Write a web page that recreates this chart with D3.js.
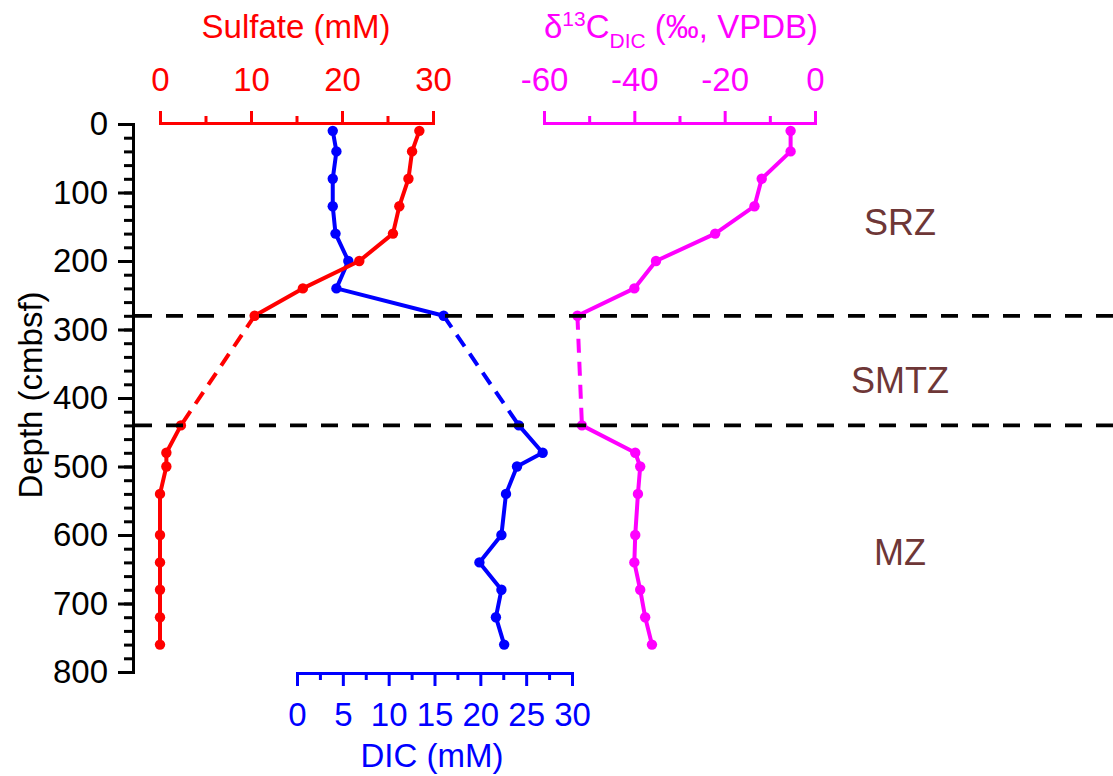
<!DOCTYPE html>
<html>
<head>
<meta charset="utf-8">
<script src="https://cdn.jsdelivr.net/npm/d3@7"></script>
<style>
  html, body { margin: 0; padding: 0; background: #fff; }
  svg text { font-family: "Liberation Sans", Arial, sans-serif; }
</style>
</head>
<body>
<svg id="chart" width="1113" height="776"></svg>
<script>
// ---- data ----
const depths   = [10, 40, 80, 120, 160, 200, 240, 280, 440, 480, 500, 540, 600, 640, 680, 720, 760];
const sulfate  = [28.5, 27.7, 27.3, 26.3, 25.6, 21.9, 15.7, 10.4, 2.3, 0.7, 0.7, 0, 0, 0, 0, 0, 0];
const dic      = [3.9, 4.3, 3.9, 3.9, 4.2, 5.6, 4.3, 16.0, 24.2, 26.8, 24.0, 22.8, 22.3, 19.9, 22.3, 21.7, 22.6];
const d13c     = [-5.4, -5.4, -11.8, -13.4, -22.1, -35.2, -40.0, -52.6, -51.6, -39.8, -38.7, -39.2, -39.8, -40.0, -38.7, -37.6, -36.1];
const zoneBounds = [280, 440];
const zoneLabels = ["SRZ", "SMTZ", "MZ"];
const zoneDepths = [143, 374, 625];
const depthTicks = [0, 100, 200, 300, 400, 500, 600, 700, 800];
const sulfateTicks = [0, 10, 20, 30];
const dicTicks = [0, 5, 10, 15, 20, 25, 30];
const d13cTicks = [-60, -40, -20, 0];

const svg = d3.select("#chart");

const y = d3.scaleLinear().domain([0, 800]).range([124, 672]);
const xS = d3.scaleLinear().domain([0, 30]).range([160, 433]);
const xD = d3.scaleLinear().domain([0, 30]).range([297, 572]);
const xC = d3.scaleLinear().domain([-60, 0]).range([544, 815]);

const FS = 33;

function styleAxis(g, color) {
  g.selectAll("path, line").attr("stroke", color).attr("stroke-width", 3);
  g.select(".domain").attr("stroke-linecap", "square");
  g.selectAll("text").attr("fill", color).style("font-size", FS + "px")
    .style("font-family", '"Liberation Sans", Arial, sans-serif');
}

// ---- left depth axis ----
const gy = svg.append("g").attr("transform", "translate(133,0)");
gy.call(d3.axisLeft(y).tickValues(d3.range(0, 801, 20)).tickSize(9).tickSizeOuter(0).tickFormat(""));
gy.call(g => styleAxis(g, "#000"));
const gy2 = svg.append("g").attr("transform", "translate(133,0)");
gy2.call(d3.axisLeft(y).tickValues(depthTicks).tickSize(15).tickSizeOuter(0).tickPadding(10));
styleAxis(gy2, "#000");
gy2.select(".domain").remove();

svg.append("text").attr("transform", "translate(42,395) rotate(-90)")
  .attr("text-anchor", "middle").style("font-size", FS + "px").attr("fill", "#000")
  .text("Depth (cmbsf)");

// ---- top sulfate axis ----
const gs = svg.append("g").attr("transform", "translate(0,123)");
gs.call(d3.axisTop(xS).tickValues([5, 15, 25]).tickSize(7).tickSizeOuter(0).tickFormat(""));
styleAxis(gs, "#ff0000");
const gs2 = svg.append("g").attr("transform", "translate(0,123)");
gs2.call(d3.axisTop(xS).tickValues(sulfateTicks).tickSize(12).tickSizeOuter(0).tickPadding(20));
styleAxis(gs2, "#ff0000");
gs2.select(".domain").remove();
svg.append("text").attr("x", 296).attr("y", 38).attr("text-anchor", "middle")
  .style("font-size", FS + "px").attr("fill", "#ff0000").text("Sulfate (mM)");

// ---- top d13C axis ----
const gc = svg.append("g").attr("transform", "translate(0,123)");
gc.call(d3.axisTop(xC).tickValues([-50, -30, -10]).tickSize(7).tickSizeOuter(0).tickFormat(""));
styleAxis(gc, "#ff00ff");
const gc2 = svg.append("g").attr("transform", "translate(0,123)");
gc2.call(d3.axisTop(xC).tickValues(d13cTicks).tickSize(12).tickSizeOuter(0).tickPadding(20)
  .tickFormat(d => d < 0 ? "-" + Math.abs(d) : String(d)));
styleAxis(gc2, "#ff00ff");
gc2.select(".domain").remove();
const ct = svg.append("text").attr("x", 681).attr("y", 38).attr("text-anchor", "middle")
  .style("font-size", FS + "px").attr("fill", "#ff00ff");
ct.append("tspan").text("δ");
ct.append("tspan").attr("dy", -12).style("font-size", "21px").text("13");
ct.append("tspan").attr("dy", 12).text("C");
ct.append("tspan").attr("dy", 10).style("font-size", "21px").text("DIC");
ct.append("tspan").attr("dy", -10).text(" (‰, VPDB)");

// ---- bottom DIC axis ----
const gd = svg.append("g").attr("transform", "translate(0,673)");
gd.call(d3.axisBottom(xD).tickValues(d3.range(2.5, 30, 5)).tickSize(7).tickSizeOuter(0).tickFormat(""));
styleAxis(gd, "#0000ff");
const gd2 = svg.append("g").attr("transform", "translate(0,673)");
gd2.call(d3.axisBottom(xD).tickValues(dicTicks).tickSize(13).tickSizeOuter(0).tickPadding(17));
styleAxis(gd2, "#0000ff");
gd2.select(".domain").remove();
svg.append("text").attr("x", 432).attr("y", 767).attr("text-anchor", "middle")
  .style("font-size", FS + "px").attr("fill", "#0000ff").text("DIC (mM)");

// ---- profiles ----
function profile(vals, xs, color) {
  const pts = depths.map((d, i) => ({ d, v: vals[i] }));
  const line = d3.line().x(p => xs(p.v)).y(p => y(p.d));
  const upper = pts.filter(p => p.d <= zoneBounds[0]);
  const lower = pts.filter(p => p.d >= zoneBounds[1]);
  const mid = pts.filter(p => p.d === zoneBounds[0] || p.d === zoneBounds[1]);
  const g = svg.append("g");
  [upper, lower].forEach(seg => g.append("path").attr("d", line(seg))
    .attr("fill", "none").attr("stroke", color).attr("stroke-width", 4).attr("stroke-linejoin", "round"));
  g.append("path").attr("d", line(mid)).attr("fill", "none").attr("stroke", color)
    .attr("stroke-width", 4).attr("stroke-dasharray", "14,9");
  g.selectAll("circle").data(pts).join("circle")
    .attr("cx", p => xs(p.v)).attr("cy", p => y(p.d)).attr("r", 5.2).attr("fill", color);
}
profile(dic, xD, "#0000ff");
profile(sulfate, xS, "#ff0000");
profile(d13c, xC, "#ff00ff");

// ---- zone boundaries ----
svg.selectAll(".zb").data(zoneBounds).join("line").attr("class", "zb")
  .attr("x1", 133).attr("x2", 1113).attr("y1", d => y(d)).attr("y2", d => y(d))
  .attr("stroke", "#000").attr("stroke-width", 3.8).attr("stroke-dasharray", "17,14")
  .attr("stroke-dashoffset", -2);

svg.selectAll(".zl").data(zoneLabels).join("text").attr("class", "zl")
  .attr("x", 900).attr("y", (d, i) => y(zoneDepths[i]) + 13).attr("text-anchor", "middle")
  .style("font-size", "36px").attr("fill", "#6e3737").text(d => d);
</script>
</body>
</html>
